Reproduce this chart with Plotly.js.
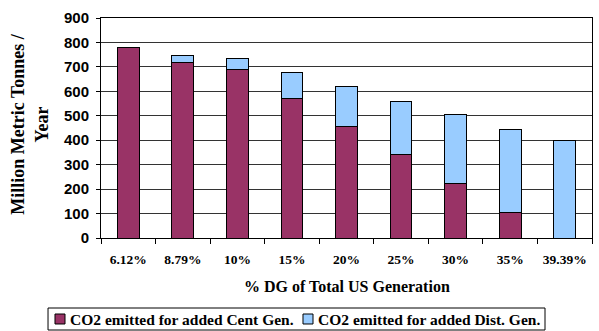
<!DOCTYPE html>
<html><head><meta charset="utf-8">
<script src="https://cdn.plot.ly/plotly-3.0.1.min.js"></script>
<style>html,body{margin:0;padding:0;background:#fff}#c{width:599px;height:331px}</style>
</head><body><div id="c"></div>
<script>
const categories = ["6.12%","8.79%","10%","15%","20%","25%","30%","35%","39.39%"];
const centGen = [778, 717, 688, 571, 457, 342, 225, 105, 0];
const distGen = [0, 31, 48, 105, 162, 218, 280, 339, 397];
const seriesNames = ["CO2 emitted for added Cent Gen.", "CO2 emitted for added Dist. Gen."];
const seriesColors = ["#993366", "#99CCFF"];
const yTicks = [0,100,200,300,400,500,600,700,800,900];
const xTitle = "% DG of Total US Generation";
const yTitle = "Million Metric Tonnes /<br>Year";

const traces = [
  {type:'bar', x:categories, y:centGen, name:seriesNames[0],
   marker:{color:seriesColors[0], line:{color:'#000', width:1}}},
  {type:'bar', x:categories, y:distGen, name:seriesNames[1],
   marker:{color:seriesColors[1], line:{color:'#000', width:1}}}
];

// legend drawn as a box with swatches and labels (paper coordinates)
const legSwatchX = [[-0.0937, -0.0733], [0.4114, 0.4318]];
const legTextX = [-0.0672, 0.4379];
const shapes = [
  {type:'rect', xref:'paper', yref:'paper', x0:-0.1079, x1:0.9043, y0:-0.4182, y1:-0.3182,
   line:{color:'#000', width:1}, fillcolor:'rgba(0,0,0,0)'}
];
const annotations = [
  {text:'<b>'+xTitle+'</b>', xref:'paper', yref:'paper', x:0.5, y:-0.2227, xanchor:'center', yanchor:'middle',
   showarrow:false, font:{family:'Liberation Serif', size:16, color:'#000'}},
  {text:'<b>'+yTitle+'</b>', xref:'paper', yref:'paper', x:-0.1445, y:0.52, xanchor:'center', yanchor:'middle',
   textangle:-90, showarrow:false, font:{family:'Liberation Serif', size:18, color:'#000'}}
];
seriesNames.forEach((n, i) => {
  shapes.push({type:'rect', xref:'paper', yref:'paper', x0:legSwatchX[i][0], x1:legSwatchX[i][1],
    y0:-0.3909, y1:-0.3455, line:{color:'#000', width:1}, fillcolor:seriesColors[i]});
  annotations.push({text:'<b>'+n+'</b>', xref:'paper', yref:'paper', x:legTextX[i], y:-0.3682,
    xanchor:'left', yanchor:'middle', showarrow:false, font:{family:'Liberation Serif', size:15.5, color:'#000'}});
});

const layout = {
  width:599, height:331, barmode:'stack', bargap:0.6,
  margin:{l:101, r:7, t:18, b:93, autoexpand:false},
  paper_bgcolor:'#fff', plot_bgcolor:'#fff',
  showlegend:false,
  xaxis:{type:'category', tickson:'boundaries', ticks:'outside', ticklen:5, tickcolor:'#000',
    ticklabelstandoff:9,
    showline:true, linecolor:'#000', linewidth:1, mirror:true, showgrid:false,
    tickfont:{family:'Liberation Serif', size:13.5, color:'#000', weight:'bold'}},
  yaxis:{range:[0,900], tickvals:yTicks, ticks:'outside', ticklen:4, tickcolor:'#000',
    ticklabelstandoff:4,
    showline:true, linecolor:'#000', linewidth:1, mirror:true,
    showgrid:true, gridcolor:'#333', gridwidth:1, zeroline:false,
    tickfont:{family:'Liberation Sans', size:15, color:'#000', weight:'bold'}},
  shapes: shapes,
  annotations: annotations
};
Plotly.newPlot('c', traces, layout, {displayModeBar:false, staticPlot:true});
</script></body></html>
